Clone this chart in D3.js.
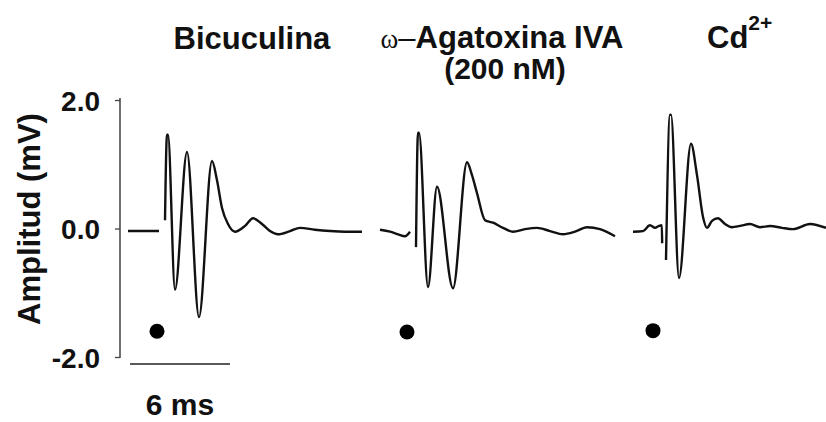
<!DOCTYPE html>
<html>
<head>
<meta charset="utf-8">
<script src="https://cdn.jsdelivr.net/npm/d3@7"></script>
<style>
  body { margin: 0; background: #fff; }
  svg text { font-family: "Liberation Sans", Arial, sans-serif; font-weight: bold; fill: #111; }
</style>
</head>
<body>
<div id="chart"></div>
<script>
// panel titles
var conditions = ["Bicuculina", "ω–Agatoxina IVA", "Cd2+"];
// stimulus time of each sweep on the shared time axis (ms)
var stimTimes = [2.7, 17.76, 32.88];
var yTicks = [-2, 0, 2];

// time (ms, relative to stimulus) and amplitude (mV) for each sweep
// null marks the gap around the stimulus artifact
var bicTime = [-2.22, -0.36, null, 0, 0.12, 0.18, 0.6, 1.32, 2.04, 2.82, 3.12, 3.42, 3.78, 4.2, 4.8, 5.28, 5.82, 6.3, 6.78, 7.5, 8.1, 9.0, 9.9, 10.8, 11.82];
var bicAmp  = [-0.04, -0.04, null, 0.13, 1.46, 1.46, -0.95, 1.19, -1.38, 1.05, 0.75, 0.32, 0.07, -0.05, 0.04, 0.16, 0.07, -0.04, -0.09, -0.04, 0.01, -0.02, -0.04, -0.05, -0.05];

var agaTime = [-2.16, -1.56, -1.08, -0.66, -0.36, null, 0, 0.12, 0.18, 0.72, 1.26, 2.22, 3.06, 3.36, 3.66, 4.14, 4.62, 5.22, 5.82, 6.54, 7.26, 8.04, 8.82, 9.54, 10.26, 11.04, 11.94];
var agaAmp  = [-0.02, -0.05, -0.09, -0.12, -0.05, null, -0.29, 1.49, 1.49, -0.91, 0.65, -0.93, 1.03, 0.83, 0.55, 0.13, 0.09, 0.01, -0.05, -0.01, 0.01, -0.04, -0.09, -0.05, 0.02, -0.01, -0.12];

var cdTime = [-2.1, -1.5, -1.08, -0.78, -0.54, -0.37, -0.35, null, -0.12, 0.12, 0.18, 0.66, 1.38, 1.74, 2.1, 2.34, 2.64, 3.0, 3.42, 3.84, 4.32, 4.92, 5.52, 6.12, 6.84, 7.5, 8.52, 9.48];
var cdAmp  = [-0.05, -0.04, 0.05, 0.01, 0.04, 0.05, -0.23, null, -0.49, 1.77, 1.77, -0.77, 1.32, 0.83, 0.18, 0.01, 0.12, 0.16, 0.07, 0.02, 0.04, 0.07, 0.02, 0.04, 0.01, -0.01, 0.07, 0.01];

// stimulus markers (time rel. stimulus, mV)
var dotTime = [-0.48, -0.54, -0.9];
var dotAmp = [-1.6, -1.61, -1.59];

// 6 ms scale bar
var barStart = 0.6, barLength = 6, barLevel = -2.11;

var sweeps = [
  {time: bicTime, amp: bicAmp},
  {time: agaTime, amp: agaAmp},
  {time: cdTime, amp: cdAmp}
];

var svgWidth = 826, svgHeight = 422;

var svg = d3.select("#chart").append("svg")
  .attr("width", svgWidth)
  .attr("height", svgHeight);

var x = d3.scaleLinear().domain([0, 42.36]).range([120, 826]);
var y = d3.scaleLinear().domain([-2, 2]).range([357, 100]);

// y axis
var yAxis = d3.axisLeft(y)
  .tickValues(yTicks)
  .tickSize(5)
  .tickSizeOuter(0)
  .tickPadding(15)
  .tickFormat(function(d) { return d.toFixed(1); });

var axisG = svg.append("g")
  .attr("transform", "translate(" + x(0) + ",0)")
  .call(yAxis);
axisG.select(".domain").attr("stroke", "#222").attr("stroke-width", 1.3)
  .attr("d", "M0," + (y(2) - 2) + "V" + (y(-2) + 1));
axisG.selectAll(".tick line").attr("stroke", "#444").attr("stroke-width", 1.3);
axisG.selectAll(".tick text")
  .attr("font-size", "28px")
  .attr("fill", "#111")
  .attr("dy", "0.36em")
  .style("font-family", "'Liberation Sans', Arial, sans-serif")
  .style("font-weight", "bold");

svg.append("text")
  .attr("transform", "rotate(-90)")
  .attr("x", -219)
  .attr("y", 40)
  .attr("text-anchor", "middle")
  .attr("font-size", "31px")
  .text("Amplitud (mV)");

// traces
var line = d3.line()
  .defined(function(d) { return d[0] !== null; })
  .curve(d3.curveMonotoneX)
  .x(function(d) { return x(d[2] + d[0]); })
  .y(function(d) { return y(d[1]); });

sweeps.forEach(function(s, i) {
  var pts = s.time.map(function(t, j) { return [t, s.amp[j], stimTimes[i]]; });
  svg.append("path")
    .datum(pts)
    .attr("fill", "none")
    .attr("stroke", "#111")
    .attr("stroke-width", 2.4)
    .attr("stroke-linejoin", "round")
    .attr("d", line);

  svg.append("circle")
    .attr("cx", x(stimTimes[i] + dotTime[i]))
    .attr("cy", y(dotAmp[i]))
    .attr("r", 7.5)
    .attr("fill", "#000");
});

// scale bar
svg.append("line")
  .attr("x1", x(barStart)).attr("x2", x(barStart + barLength))
  .attr("y1", y(barLevel)).attr("y2", y(barLevel))
  .attr("stroke", "#222").attr("stroke-width", 1.6);
svg.append("text")
  .attr("x", x(barStart + barLength / 2))
  .attr("y", 415)
  .attr("text-anchor", "middle")
  .attr("font-size", "30px")
  .text(barLength + " ms");

// titles
svg.append("text")
  .attr("x", 252).attr("y", 49)
  .attr("text-anchor", "middle")
  .attr("font-size", "31px")
  .text(conditions[0]);

var t2 = svg.append("text")
  .attr("x", 502).attr("y", 48)
  .attr("text-anchor", "middle")
  .attr("font-size", "31px");
t2.append("tspan")
  .style("font-family", "'Liberation Serif', serif")
  .style("font-weight", "normal")
  .attr("font-size", "27px")
  .text(conditions[1].slice(0, 1));
t2.append("tspan")
  .style("font-weight", "normal")
  .text(conditions[1].slice(1, 2));
t2.append("tspan").text(conditions[1].slice(2));

svg.append("text")
  .attr("x", 505).attr("y", 79)
  .attr("text-anchor", "middle")
  .attr("font-size", "30px")
  .text("(200 nM)");

var t3 = svg.append("text")
  .attr("x", 707).attr("y", 48)
  .attr("font-size", "31px");
t3.append("tspan").text(conditions[2].slice(0, 2));
t3.append("tspan")
  .attr("dy", -18)
  .attr("font-size", "21px")
  .text(conditions[2].slice(2));
</script>
</body>
</html>
